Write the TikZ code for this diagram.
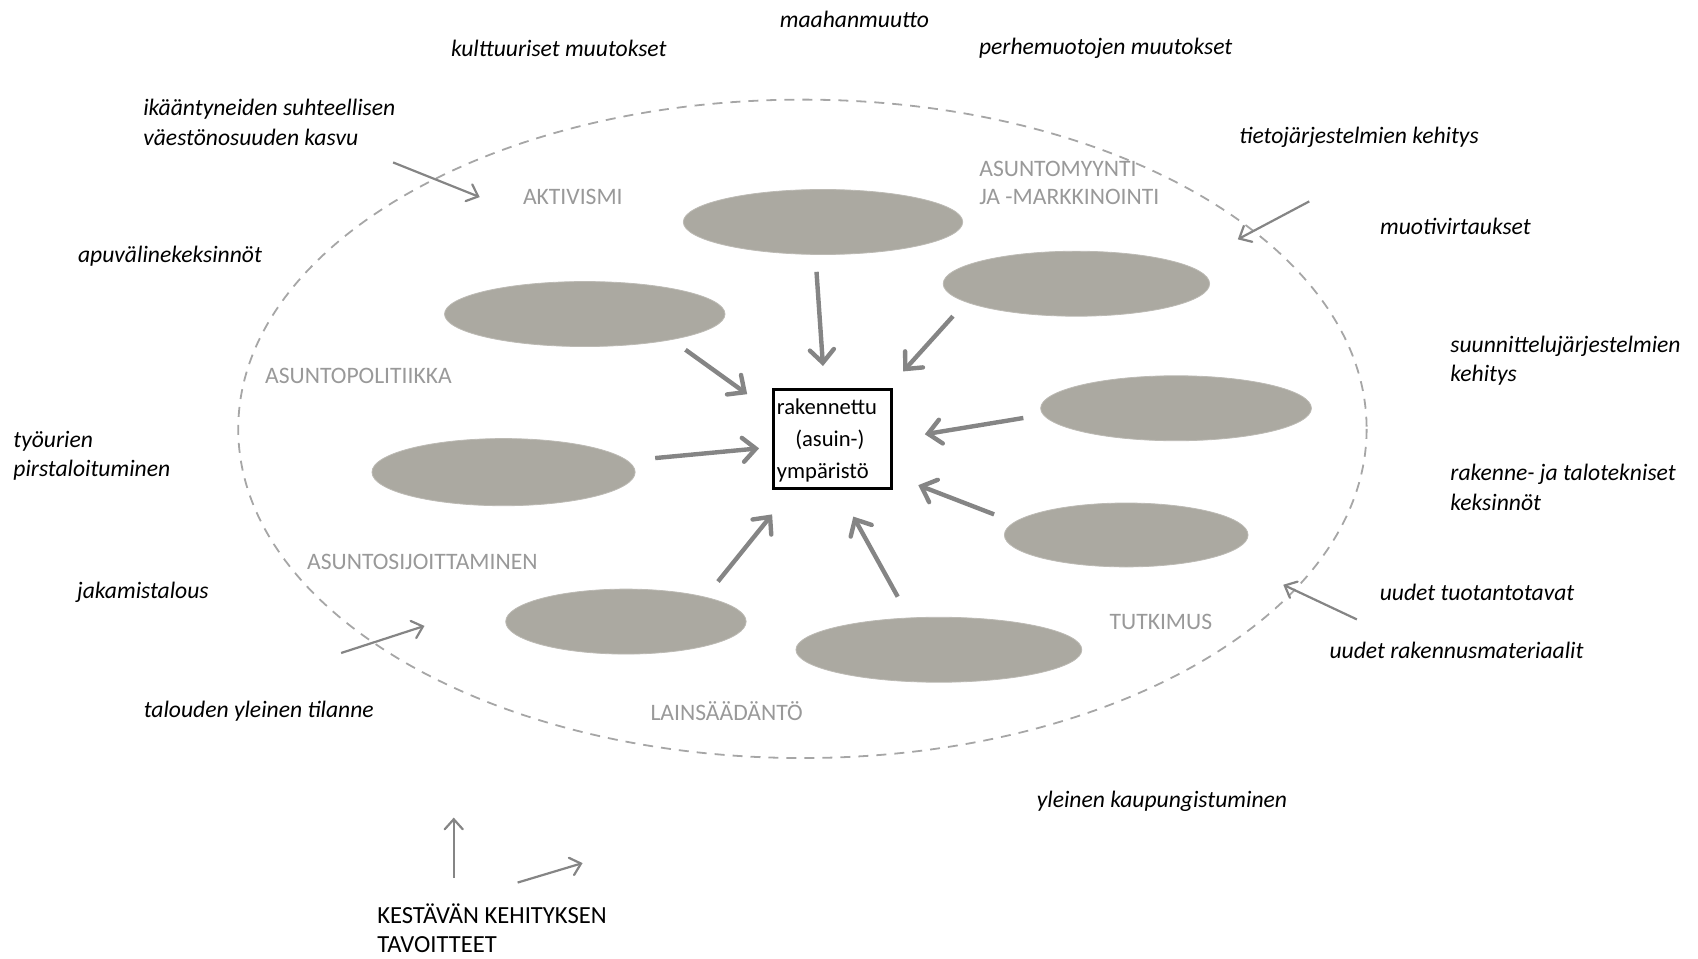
\documentclass[tikz,border=0pt]{standalone}
\usepackage{fontspec}
\setmainfont{Carlito}
\usetikzlibrary{shapes.geometric,arrows.meta}
\definecolor{blobgray}{HTML}{ABA9A1}
\definecolor{arrgray}{HTML}{858585}
\definecolor{labgray}{HTML}{999999}
\definecolor{dashgray}{HTML}{A6A6A6}
\tikzset{
  blob/.style={ellipse, fill=blobgray, draw=blobgray!80!white, line width=0.4pt, inner sep=0pt},
  bigarrow/.style={draw=arrgray, line width=2.2pt, -{Straight Barb[length=6.5pt,width=12pt,line cap=round]}},
  thinarrow/.style={draw=arrgray, line width=1.1pt, -{Straight Barb[length=5pt,width=9pt,line cap=round]}},
  outer/.style={font=\fontsize{11.8}{14.6}\selectfont\itshape, text=black, inner sep=0pt, align=left},
  inner/.style={font=\fontsize{11.8}{14}\selectfont, text=labgray, inner sep=0pt, align=left},
  boxtext/.style={font=\fontsize{11.3}{14.5}\selectfont, anchor=west, inner sep=0pt},
}
\begin{document}
\begin{tikzpicture}[x=0.5415pt,y=-0.5415pt]
\useasboundingbox (0,0) rectangle (1568,885);
% dashed outer ellipse
\draw[dashgray, line width=0.9pt, dash pattern=on 5pt off 4pt] (741,396) ellipse [x radius=521, y radius=304];

% gray ellipses
\node[blob, minimum width={258*0.5415pt}, minimum height={60*0.5415pt}] (e1) at (760,205) {};
\node[blob, minimum width={246*0.5415pt}, minimum height={60*0.5415pt}] (e2) at (994,262) {};
\node[blob, minimum width={259*0.5415pt}, minimum height={60*0.5415pt}] (e3) at (540,290) {};
\node[blob, minimum width={250*0.5415pt}, minimum height={60*0.5415pt}] (e4) at (1086,377) {};
\node[blob, minimum width={243*0.5415pt}, minimum height={62*0.5415pt}] (e5) at (465,436) {};
\node[blob, minimum width={225*0.5415pt}, minimum height={59*0.5415pt}] (e6) at (1040,494) {};
\node[blob, minimum width={222*0.5415pt}, minimum height={60*0.5415pt}] (e7) at (578,574) {};
\node[blob, minimum width={264*0.5415pt}, minimum height={60*0.5415pt}] (e8) at (867,600) {};

% central box
\node[draw=black, line width=1.6pt, minimum width={109*0.5415pt}, minimum height={91*0.5415pt}, inner sep=0pt] (box) at (768.5,405.5) {};
\node[boxtext] (t1) at (717,376) {rakennettu};
\node[boxtext] (t2) at (734,406) {(asuin-)};
\node[boxtext] (t3) at (717,436) {ympäristö};

% arrow endpoints
\coordinate (a1s) at (754,251); \coordinate (a1e) at (760,338);
\coordinate (a2s) at (880,292); \coordinate (a2e) at (834,343);
\coordinate (a3s) at (633,323); \coordinate (a3e) at (690,364);
\coordinate (a4s) at (945,386); \coordinate (a4e) at (854,401);
\coordinate (a5s) at (605,423); \coordinate (a5e) at (701,414);
\coordinate (a6s) at (918,475); \coordinate (a6e) at (848,448);
\coordinate (a7s) at (663,537); \coordinate (a7e) at (713,475);
\coordinate (a8s) at (829,551); \coordinate (a8e) at (788,477);
\foreach \i in {1,...,8} { \draw[bigarrow] (a\i s) -- (a\i e); }

% external thin arrows
\coordinate (b1s) at (363,150); \coordinate (b1e) at (443,182);
\coordinate (b2s) at (1209,186); \coordinate (b2e) at (1143,221);
\coordinate (b3s) at (1253,572); \coordinate (b3e) at (1185,540);
\coordinate (b4s) at (315,603); \coordinate (b4e) at (392,578);
\coordinate (b5s) at (419,811); \coordinate (b5e) at (419,755);
\coordinate (b6s) at (478,815); \coordinate (b6e) at (538,797);
\foreach \i in {1,...,6} { \draw[thinarrow] (b\i s) -- (b\i e); }

% inner gray labels
\node[inner] (l1) at (529,182) {AKTIVISMI};
\node[inner, anchor=west] (l2) at (904,169) {ASUNTOMYYNTI\\JA -MARKKINOINTI};
\node[inner] (l3) at (331,347) {ASUNTOPOLITIIKKA};
\node[inner] (l4) at (390,519) {ASUNTOSIJOITTAMINEN};
\node[inner] (l5) at (671,657) {LAINSÄÄDÄNTÖ};
\node[inner] (l6) at (1072,574) {TUTKIMUS};

% outer italic texts
\node[outer] (o1) at (789,18) {maahanmuutto};
\node[outer] (o2) at (516,45) {kulttuuriset muutokset};
\node[outer] (o3) at (1021,45) {perhemuotojen muutokset};
\node[outer, anchor=west] (o4) at (132,113) {ikääntyneiden suhteellisen\\väestönosuuden kasvu};
\node[outer] (o5) at (1255,127) {tietojärjestelmien kehitys};
\node[outer] (o6) at (1344,209) {muotivirtaukset};
\node[outer] (o7) at (157,237) {apuvälinekeksinnöt};
\node[outer, anchor=west] (o8) at (1339,333) {suunnittelujärjestelmien\\kehitys};
\node[outer, anchor=west] (o9) at (12,421) {työurien\\pirstaloituminen};
\node[outer, anchor=west] (o10) at (1339,450) {rakenne- ja talotekniset\\keksinnöt};
\node[outer] (o11) at (132,547) {jakamistalous};
\node[outer] (o12) at (1364,547) {uudet tuotantotavat};
\node[outer] (o13) at (1345,601) {uudet rakennusmateriaalit};
\node[outer] (o14) at (239,657) {talouden yleinen tilanne};
\node[outer] (o15) at (1073,740) {yleinen kaupungistuminen};
\node[font=\fontsize{12.3}{14.3}\selectfont, anchor=west, inner sep=0pt, align=left] (o16) at (348,857) {KESTÄVÄN KEHITYKSEN\\TAVOITTEET};
\end{tikzpicture}
\end{document}
